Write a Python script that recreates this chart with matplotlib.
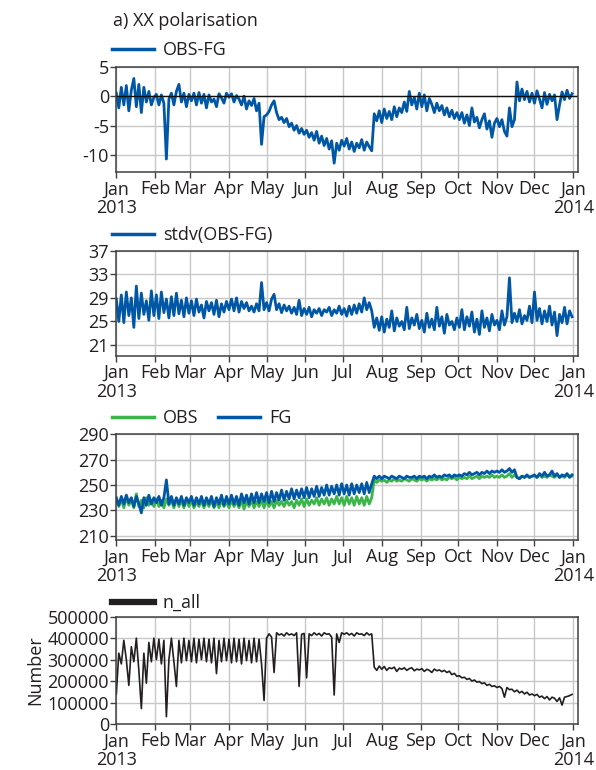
import numpy as np
import pandas as pd
import matplotlib
matplotlib.use("Agg")
import matplotlib.pyplot as plt
from matplotlib.lines import Line2D

plt.rcParams['font.family'] = ['Open Sans', 'DejaVu Sans']
plt.rcParams['font.size'] = 13
plt.rcParams['axes.unicode_minus'] = False

# every second day, Jan 1 .. Dec 31 2013 (one row per month)
obs_fg = [
  0.5, -2.0, 1.5, -1.5, 1.8, -2.5, 1.0, 3.0, -1.8, 2.0, -2.8, 1.5, -1.0, 0.8, -1.5, -0.2,
  0.3, -1.5, 0.2, -1.2, -10.7, -0.5, 0.5, -1.5, 0.8, 2.0, -1.0, 0.5, -1.8, 0.3,
  -0.8, 0.5, -1.5, 0.6, -1.2, 0.3, -2.0, 0.2, -1.0, -0.5, -1.8, 0.4, -0.3, -1.2, 0.5,
  -0.2, 0.4, -1.0, 0.1, -0.5, -1.5, 0.0, -2.2, -0.8, -1.6, -0.4, -2.5, -1.2, -8.2, -3.5,
  -3.2, -2.6, -1.5, -0.8, -2.8, -4.0, -3.6, -4.5, -3.8, -5.2, -4.6, -5.8, -5.0, -6.3, -5.5, -6.5,
  -5.8, -7.0, -6.2, -7.5, -6.0, -8.0, -6.8, -8.4, -7.2, -9.0, -7.6, -11.4, -8.0, -9.2, -7.5,
  -8.5, -7.2, -9.0, -7.8, -9.4, -8.0, -8.8, -7.4, -9.2, -7.8, -8.6, -9.3, -3.0, -4.2, -2.5,
  -4.5, -2.2, -3.8, -2.6, -4.0, -1.8, -3.5, -2.0, -2.8, -1.0, -2.6, 0.8, -1.5, -0.2, -2.2, 0.5,
  -1.8, 0.2, -2.5, -0.4, -1.4, -2.8, -1.2, -2.5, -1.6, -3.2, -2.0, -3.5, -2.4, -3.8, -2.8,
  -4.0, -2.8, -4.6, -3.2, -5.0, -2.0, -4.4, -3.6, -5.4, -4.0, -3.0, -5.6, -4.2, -7.0, -4.6,
  -3.8, -5.2, -4.0, -6.0, -6.8, -2.0, -5.2, -4.0, 2.4, -0.8, 1.2, -0.6, 0.8, -1.0, 0.5,
  -1.2, 0.9, -0.5, -2.0, 0.6, -1.4, 0.3, -0.8, 0.2, -4.0, -1.5, 0.7, -0.6, 1.0, -0.4, 0.4,
]

stdv = [
  28.8, 25.0, 29.5, 24.8, 30.0, 26.0, 29.0, 24.0, 31.0, 25.5, 29.8, 26.2, 28.5, 25.2, 30.2, 26.0,
  29.5, 25.5, 30.0, 26.5, 28.8, 25.6, 29.2, 26.0, 29.8, 26.3, 28.6, 25.8, 29.0, 26.4,
  28.5, 26.0, 28.8, 26.6, 27.8, 25.6, 28.4, 26.8, 28.2, 26.2, 28.6, 25.8, 28.0, 26.6, 28.4,
  27.0, 28.8, 26.8, 29.0, 26.6, 28.4, 27.2, 28.2, 26.8, 27.6, 26.6, 28.0, 26.8, 31.6, 27.0,
  28.2, 26.8, 28.8, 29.6, 27.0, 28.0, 26.5, 27.8, 26.8, 27.6, 26.4, 27.4, 26.2, 28.6, 26.0, 27.2,
  26.2, 27.4, 25.8, 27.0, 26.4, 27.2, 26.0, 27.0, 26.6, 27.4, 26.0, 27.0, 26.4, 27.6, 26.2,
  27.2, 25.9, 27.6, 26.2, 27.8, 26.4, 28.0, 26.6, 29.0, 27.0, 28.2, 26.8, 24.0, 25.6, 23.5,
  25.8, 23.2, 25.4, 24.0, 26.8, 23.4, 25.6, 24.2, 25.0, 23.6, 27.4, 23.8, 25.6, 24.4, 26.2, 23.8,
  25.2, 23.2, 26.4, 24.0, 25.4, 23.6, 27.4, 24.2, 25.8, 23.0, 26.2, 24.4, 25.0, 23.6, 25.6,
  24.0, 27.0, 23.6, 25.8, 24.2, 26.6, 23.2, 25.4, 22.8, 26.8, 24.0, 25.6, 23.4, 26.2, 24.4,
  25.2, 23.6, 26.8, 24.4, 25.8, 32.4, 24.8, 26.4, 25.0, 27.0, 24.6, 26.0, 25.2, 27.6, 24.8,
  30.0, 25.2, 27.2, 24.6, 26.8, 25.0, 27.6, 24.4, 26.6, 22.6, 26.2, 24.8, 27.4, 24.6, 26.8, 25.8,
]

obs = [
  238, 233, 239, 232, 240, 234, 238, 232, 243, 233, 238, 232, 240, 234, 238, 233,
  239, 233, 238, 232, 239, 234, 238, 232, 239, 233, 238, 232, 238, 233,
  238, 232, 237, 233, 238, 232, 237, 233, 238, 232, 237, 232, 238, 233, 237,
  232, 238, 233, 237, 232, 238, 231, 237, 233, 238, 232, 237, 233, 238, 232,
  238, 233, 237, 232, 238, 234, 237, 233, 238, 234, 237, 232, 238, 234, 239, 233,
  239, 234, 238, 235, 240, 234, 239, 235, 240, 234, 239, 235, 241, 235, 240,
  234, 241, 235, 240, 234, 241, 235, 240, 234, 241, 235, 240, 254, 252, 254,
  253, 254, 252, 254, 253, 255, 253, 254, 253, 255, 254, 253, 255, 254, 253, 255,
  254, 255, 253, 255, 254, 255, 254, 256, 254, 255, 254, 256, 255, 256, 254,
  256, 255, 256, 255, 257, 255, 256, 257, 255, 257, 256, 257, 256, 258, 256,
  257, 256, 258, 256, 257, 259, 256, 258, 256, 255, 257, 256, 257, 256, 257,
  257, 256, 258, 256, 257, 256, 258, 257, 256, 258, 256, 257, 256, 258, 257, 257,
]

fg = [
  240, 234, 241, 235, 242, 236, 240, 233, 241, 235, 228, 240, 234, 242, 235, 240,
  236, 241, 234, 240, 254, 235, 241, 234, 240, 235, 241, 234, 240, 236,
  241, 234, 240, 235, 241, 234, 240, 235, 241, 233, 240, 235, 242, 234, 241,
  235, 242, 235, 241, 234, 243, 236, 242, 235, 243, 236, 244, 236, 243, 237,
  244, 236, 245, 237, 244, 238, 246, 238, 245, 239, 247, 239, 246, 240, 247, 240,
  248, 240, 247, 241, 249, 241, 248, 242, 250, 242, 249, 243, 250, 242, 251,
  243, 250, 242, 251, 243, 250, 244, 251, 243, 252, 244, 251, 257, 255, 257,
  255, 257, 256, 255, 257, 256, 255, 257, 256, 255, 257, 256, 256, 257, 255, 257,
  256, 257, 255, 257, 256, 258, 256, 257, 256, 258, 257, 258, 256, 258, 257,
  258, 257, 259, 258, 260, 258, 259, 260, 258, 260, 259, 261, 259, 261, 260,
  261, 260, 262, 260, 261, 263, 260, 262, 256, 255, 257, 256, 258, 256, 257,
  258, 256, 259, 257, 260, 257, 258, 261, 257, 259, 256, 258, 257, 259, 256, 258,
]

# thousands
n_all_k = [
  140, 330, 280, 390, 300, 180, 360, 290, 400, 250, 72, 330, 190, 380, 290, 400,
  300, 395, 280, 390, 34, 300, 400, 290, 175, 390, 285, 400, 295, 390,
  290, 400, 285, 395, 300, 400, 290, 395, 285, 400, 235, 390, 290, 400, 295,
  395, 285, 400, 290, 395, 280, 400, 295, 390, 285, 400, 290, 395, 280, 110,
  400, 420, 405, 240, 425, 415, 420, 410, 425, 415, 420, 412, 425, 175, 418, 422,
  215, 420, 412, 425, 415, 422, 410, 425, 418, 420, 405, 135, 420, 380, 425,
  418, 425, 415, 422, 410, 425, 418, 420, 412, 425, 415, 420, 265, 250, 270,
  255, 268, 250, 262, 258, 265, 245, 260, 255, 262, 250, 258, 262, 248, 256, 252,
  258, 245, 255, 250, 240, 256, 248, 252, 244, 250, 240, 246, 230, 236, 222,
  225, 215, 218, 208, 212, 200, 205, 195, 198, 188, 192, 180, 185, 175, 178,
  170, 175, 165, 125, 170, 160, 162, 150, 158, 145, 152, 140, 148, 135, 140,
  132, 138, 125, 130, 118, 128, 112, 125, 120, 105, 122, 88, 125, 128, 132, 138,
]

month_labels = ['Jan\n2013', 'Feb', 'Mar', 'Apr', 'May', 'Jun', 'Jul',
                'Aug', 'Sep', 'Oct', 'Nov', 'Dec', 'Jan\n2014']

dates = pd.date_range('2013-01-01', '2013-12-31', freq='2D')
n_all = np.array(n_all_k) * 1000

BLUE = '#0057a6'
GREEN = '#3bb54a'
BLACK = '#231f20'
TXT = '#231f20'
GRID = '#c8c8c8'

fig = plt.figure(figsize=(5.96, 7.7), dpi=100)

def make_axes(bottom, height):
  ax = fig.add_axes([116 / 596, bottom, 462 / 596, height])
  ax.grid(True, color=GRID, lw=1.0)
  ax.set_axisbelow(True)
  for s in ax.spines.values():
    s.set_color('#404040')
    s.set_linewidth(1.1)
  ax.set_xticks(pd.date_range('2013-01-01', '2014-01-01', freq='MS'))
  ax.set_xticklabels(month_labels, linespacing=1.05)
  ax.set_xlim(pd.Timestamp('2012-12-31 18:00'), pd.Timestamp('2014-01-04 18:00'))
  ax.tick_params(direction='out', length=4, width=1, colors='#404040',
                 labelcolor=TXT, pad=2)
  ax.tick_params(axis='y', pad=1)
  return ax

def add_legend(ax, handles, labels, dy):
  ax.legend(handles, labels, loc='center left', bbox_to_anchor=(-0.008, 1 + dy),
            frameon=False, borderpad=0, borderaxespad=0, handlelength=2.3,
            handletextpad=0.5, columnspacing=1.1, ncol=len(handles),
            labelcolor=TXT)

# a) OBS-FG
ax1 = make_axes(1 - 172 / 770, 105.3 / 770)
ax1.plot(dates, obs_fg, color=BLUE, lw=2.0)
ax1.axhline(0, color='#111111', lw=1.0)
ax1.set_ylim(-12.9, 5)
ax1.set_yticks([5, 0, -5, -10])
add_legend(ax1, [Line2D([], [], color=BLUE, lw=2.5)], ['OBS-FG'], 16.7 / 105.3)
fig.text(113 / 596, 1 - 25.5 / 770, 'a) XX polarisation', color=TXT,
         va='baseline', ha='left', fontsize=13)

# stdv
ax2 = make_axes(1 - 355.7 / 770, 105 / 770)
ax2.plot(dates, stdv, color=BLUE, lw=2.0)
ax2.set_ylim(19.2, 37)
ax2.set_yticks([37, 33, 29, 25, 21])
add_legend(ax2, [Line2D([], [], color=BLUE, lw=2.5)], ['stdv(OBS-FG)'], 15.7 / 105)

# OBS / FG
ax3 = make_axes(1 - 540 / 770, 105.7 / 770)
ax3.plot(dates, obs, color=GREEN, lw=2.0)
ax3.plot(dates, fg, color=BLUE, lw=2.0)
ax3.set_ylim(206.6, 290)
ax3.set_yticks([290, 270, 250, 230, 210])
add_legend(ax3, [Line2D([], [], color=GREEN, lw=2.5), Line2D([], [], color=BLUE, lw=2.5)],
           ['OBS', 'FG'], 16 / 105.7)

# n_all
ax4 = make_axes(1 - 724 / 770, 107.3 / 770)
ax4.plot(dates, n_all, color=BLACK, lw=1.2)
ax4.set_ylim(0, 500000)
ax4.set_yticks([0, 100000, 200000, 300000, 400000, 500000])
ax4.set_ylabel('Number', color=TXT, labelpad=2)
ax4.get_yticklabels()[0].set_verticalalignment('center_baseline')
add_legend(ax4, [Line2D([], [], color=BLACK, lw=4.5)], ['n_all'], 13.5 / 107.3)

fig.savefig('out.png', dpi=100)
